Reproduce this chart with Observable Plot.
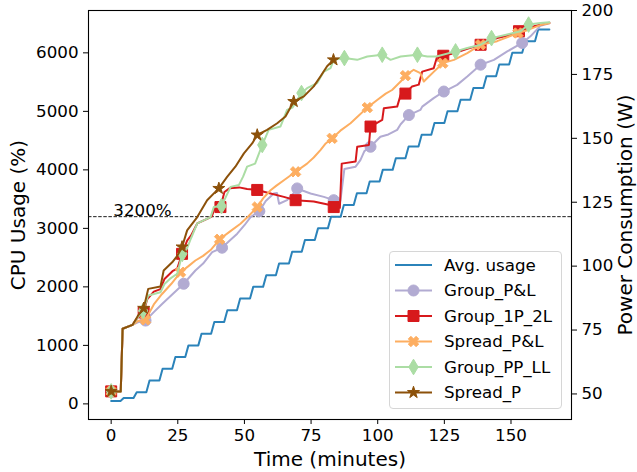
<!DOCTYPE html>
<html><head><meta charset="utf-8">
<script src="https://cdn.jsdelivr.net/npm/d3@7"></script>
<script src="https://cdn.jsdelivr.net/npm/@observablehq/plot@0.6"></script>
<style>
body{margin:0;background:#fff;font-family:"DejaVu Sans",sans-serif;}
#wrap{position:relative;width:637px;height:472px;}
#legend{position:absolute;left:389px;top:251px;width:173px;height:158px;box-sizing:border-box;border:1px solid #d6d6d6;border-radius:4px;background:rgba(255,255,255,0.8);}
</style></head><body><div id="wrap"></div>
<script>
// ---- tick labels / constants ----
const xTicks = [0, 25, 50, 75, 100, 125, 150];
const cpuTicks = [0, 1000, 2000, 3000, 4000, 5000, 6000];
const powerTicks = [50, 75, 100, 125, 150, 175, 200];
const threshold = 3200;

// ---- Avg. usage (CPU %, left axis): [time, value] ----
const avgUsage = [[0,50],[3.5,50],[4.7,100],[8.4,100],[9.6,200],[13.2,200],[14.4,400],[18.1,400],[19.3,600],
[22.9,600],[24.1,800],[27.8,800],[29.0,1000],[32.7,1000],[33.9,1200],[37.5,1200],[38.7,1400],[42.4,1400],[43.6,1600],
[47.2,1600],[48.4,1800],[52.1,1800],[53.3,2000],[57.0,2000],[58.2,2200],[61.8,2200],[63.0,2400],[66.7,2400],[67.9,2600],
[71.5,2600],[72.7,2800],[76.4,2800],[77.6,3000],[81.3,3000],[82.5,3200],[86.1,3200],[87.3,3400],[91.0,3400],[92.2,3600],
[95.8,3600],[97.0,3800],[100.7,3800],[101.9,4000],[105.6,4000],[106.8,4200],[110.4,4200],[111.6,4400],[115.3,4400],[116.5,4600],
[120.1,4600],[121.3,4800],[125.0,4800],[126.2,5000],[129.9,5000],[131.1,5200],[134.7,5200],[135.9,5400],[139.6,5400],[140.8,5600],
[144.4,5600],[145.6,5800],[149.3,5800],[150.5,6000],[154.2,6000],[155.4,6200],[159.0,6200],[160.2,6400],[164.4,6400]];

// ---- Power series (W, right axis): [time, watts] ----
const groupPL = [[0,51],[3.6,51],[4.3,75.5],[8,77],[10,78],[12.9,78.7],[16,82],[19.1,85.2],[22,88],[24.5,90.5],[27.2,93.1],
[31.6,98.3],[34.5,101],[37.9,105.5],[41.6,107.2],[44.5,110],[47.3,112.7],[50,116],[52.3,119.2],[55.6,121.5],[58,125.5],
[61,128.4],[62.2,128.6],[63,124.4],[66,125.8],[68,128],[69.8,130.4],[72,129.5],[74.8,128.4],[79.8,127.1],[83.5,125.8],
[86,125.5],[87.5,138],[91.7,138.9],[93.5,141.5],[95,145],[97.3,146.7],[101,150.6],[104,151.5],[107.3,153.3],[108.6,155.5],
[111.7,159.1],[116,161.1],[116.7,162.4],[121,165.7],[124.8,168.3],[129.8,170.9],[133.6,174.2],[138.6,178.8],[143.6,180.7],
[148.6,184],[154.2,187.3],[157.3,189.9],[161,194],[164.4,195]];
const groupPLMarks = [0,12.9,27.2,41.6,55.6,69.8,83.5,97.3,111.7,124.8,138.6,154.2];

const group1P2L = [[0,51],[3.6,51],[4.3,75.5],[8,77],[10,80],[12.2,81.9],[13.5,87],[16,90],[18.5,91],[20,95],[23,98],[24.8,99],
[26.6,104.8],[28.5,110],[30,112],[32.3,116.7],[36,118.5],[37.8,119.5],[38.8,122.5],[41,123.1],[42.5,129],[44.5,130.5],[48,130.8],
[51,130.2],[54.8,129.8],[59.8,128.4],[64.8,127.1],[69.2,125.8],[76,125.3],[81.7,124],[83.5,123.1],[85.8,122.8],[86.5,140.1],
[91.7,140.9],[92.3,146.7],[96.7,147.4],[97.3,154.6],[101.7,157.2],[102.3,161.8],[107.3,162.4],[108.6,167],[110.4,167.5],
[112.9,170.3],[115.4,171],[116.7,176.1],[121,177.4],[122.3,182],[124.6,182.3],[128.6,183.3],[133.6,185],[138.6,186.6],
[144.8,189.2],[149,190.2],[153,191.9],[158.6,193.8],[164.4,195.2]];
const group1P2LMarks = [0,12.2,26.6,41,54.8,69.2,83.5,97.3,110.4,124.6,138.6,153];

const spreadPL = [[0,51],[3.6,51],[4.3,75.5],[8,77],[10,78.5],[12.9,79],[16,85],[19.1,89.1],[22.5,93],[26,97.6],[29,100],
[31.6,102.2],[34.5,104],[37.3,106.3],[40.7,110.5],[44.5,113.5],[48.5,116.6],[51.5,119.5],[54.8,123.1],[57,126.5],[59.8,129.7],
[62,131.5],[64.8,133.6],[69.2,136.9],[73.5,140.1],[76,142.5],[78.5,145.4],[80.5,148],[82.9,150],[86,153],[89.8,155.9],
[92.5,158.5],[96.1,162],[99.8,165],[103,167.5],[105.4,168.9],[108.6,172.2],[110.4,174.5],[113.5,176.8],[116,175.5],
[117.3,172.2],[119,174],[121,176],[124.4,179.4],[128.6,180.7],[133.6,183.3],[138.6,186.6],[144.8,188],[152.6,191.2],
[156.1,192.3],[161,194.3],[164.4,195]];
const spreadPLMarks = [0,12.9,26,40.7,54.8,69.2,82.9,96.1,110.4,124.4,138.6,152.6];

const groupPPLL = [[0,51],[3.6,51],[4.3,75.5],[8,77],[10,80],[12,82.5],[13.9,88.5],[18.5,89.8],[20,93],[22,95],[24.8,97],
[26.7,104.8],[28.5,107],[30,111],[32.3,116.7],[37.3,119.2],[38.5,123.1],[41.4,123.5],[44.8,131],[47.9,131.7],[49.5,135],
[51,138.9],[54,140.1],[56.7,147.4],[59.1,153.3],[63.5,154.6],[66,161.1],[68,162],[71.4,167.7],[73.5,169.6],[77.3,171.6],
[79.8,176.1],[82.3,177.5],[83.5,180.7],[87.5,181.4],[92.3,180.7],[96.1,182],[101.7,182.7],[104.8,180.7],[108.6,182],
[114.9,182.7],[118.6,182],[122,182],[129.2,184],[133.6,185.3],[138.6,186.6],[142.7,189.2],[148.6,190.6],[153.6,191.9],
[156.6,194.5],[161,195.1],[164.4,195.4]];
const groupPPLLMarks = [0,12,26.7,41.4,56.7,71.4,87.5,101.7,114.9,129.2,142.7,156.6];

const spreadP = [[0,51],[3.6,51],[4.3,75.5],[8,77],[10,80.5],[12.2,83.5],[13.9,91.1],[18.5,92],[19.7,98.3],[22.9,101.5],
[24.8,104],[26.6,107.5],[28.5,114],[32.3,119.2],[36,125.8],[40.4,130.4],[43.5,134.9],[46.6,138.9],[49.8,144.1],[52.9,148],
[54.8,151.3],[58.5,153.3],[62.3,155.9],[65.4,158.5],[68.5,164.4],[72.3,166.4],[76,170.3],[78.5,174.2],[81,178.2],[83.4,180.7]];
const spreadPMarks = [0,12.2,26.6,40.4,54.8,68.5,83.4];

// ---- marker shapes ----
const symCircle = {draw(c){ c.moveTo(5.5,0); c.arc(0,0,5.5,0,2*Math.PI); c.closePath(); }};
const symSquare = {draw(c){ c.rect(-5.5,-5.5,11,11); }};
const symDiamond = {draw(c){ c.moveTo(0,-7.8); c.lineTo(4.7,0); c.lineTo(0,7.8); c.lineTo(-4.7,0); c.closePath(); }};
const symStar = {draw(c){ for (let k=0;k<10;k++){ const r = k%2 ? 2.4 : 6.3; const a = -Math.PI/2 + k*Math.PI/5;
  const x = r*Math.cos(a), y = r*Math.sin(a); if (k) c.lineTo(x,y); else c.moveTo(x,y);} c.closePath(); }};
const symXFill = {draw(c){ const pts=[[-1,-3],[1,-3],[1,-1],[3,-1],[3,1],[1,1],[1,3],[-1,3],[-1,1],[-3,1],[-3,-1],[-1,-1]];
  const s = 11/6, cs = Math.SQRT1_2;
  pts.forEach(([x,y],i)=>{ const X=(x-y)*cs*s, Y=(x+y)*cs*s; if (i) c.lineTo(X,Y); else c.moveTo(X,Y); }); c.closePath(); }};

const avgColor = "#2b83ba";
const series = [
  {name:"Group_P&L",   color:"#b2abd2", data:groupPL,   marks:groupPLMarks,   symbol:symCircle},
  {name:"Group_1P_2L", color:"#d7191c", data:group1P2L, marks:group1P2LMarks, symbol:symSquare},
  {name:"Spread_P&L",  color:"#fdae61", data:spreadPL,  marks:spreadPLMarks,  symbol:symXFill},
  {name:"Group_PP_LL", color:"#abdda4", data:groupPPLL, marks:groupPPLLMarks, symbol:symDiamond},
  {name:"Spread_P",    color:"#8c510a", data:spreadP,   marks:spreadPMarks,   symbol:symStar}
];

// right axis (W) mapped onto left-axis (CPU %) coordinates
const yDomain = [-267, 6724];
const wDomain = [40, 200];
const toC = d3.scaleLinear(wDomain, yDomain);

const marks = [
  Plot.ruleY([threshold], {stroke:"black", strokeWidth:0.9, strokeDasharray:"3.5,1.6"}),
  Plot.text([threshold], {x: () => 0.8, y: d => d, text: d => d + "%", textAnchor:"start", lineAnchor:"bottom", dy:-1, fontSize:16.7}),
  Plot.line(avgUsage, {x: d => d[0], y: d => d[1], stroke: avgColor, strokeWidth: 2})
];
for (const s of series) {
  marks.push(Plot.line(s.data, {x: d => d[0], y: d => toC(d[1]), stroke: s.color, strokeWidth: 2}));
  marks.push(Plot.dot(s.data.filter(d => s.marks.includes(d[0])), {x: d => d[0], y: d => toC(d[1]),
    symbol: s.symbol, r: 6, fill: s.color, stroke: s.color, strokeWidth: 1}));
}
marks.push(
  Plot.frame({stroke:"black", strokeWidth:1.1}),
  Plot.axisX(xTicks, {tickSize:5, tickPadding:5, tickFormat: d => String(d), label:null}),
  Plot.axisY(cpuTicks, {anchor:"left", tickSize:5, tickPadding:5, tickFormat: d => String(d), label:null}),
  Plot.axisY(powerTicks.map(toC), {anchor:"right", tickSize:5, tickPadding:5, tickFormat: c => String(Math.round(toC.invert(c))), label:null}),
  Plot.text(["Time (minutes)"], {text: d => d, frameAnchor:"bottom", dy:40, fontSize:20, lineAnchor:"middle", textAnchor:"middle"}),
  Plot.text(["CPU Usage (%)"], {text: d => d, frameAnchor:"left", dx:-70, rotate:-90, fontSize:20, textAnchor:"middle", lineAnchor:"middle"}),
  Plot.text(["Power Consumption (W)"], {text: d => d, frameAnchor:"right", dx:54, rotate:-90, fontSize:20, textAnchor:"middle", lineAnchor:"middle"})
);

const chart = Plot.plot({
  width: 637, height: 472,
  marginLeft: 88, marginRight: 66, marginTop: 10, marginBottom: 53,
  x: {domain: [-8.5, 172.7]},
  y: {domain: yDomain},
  style: {fontFamily: '"DejaVu Sans", sans-serif', fontSize: "16.7px", color: "black", background: "white", overflow: "visible"},
  marks
});
const wrap = document.getElementById("wrap");
wrap.appendChild(chart);

// ---- legend (inside plot, lower right) ----
const legendItems = [{name:"Avg. usage", color: avgColor, symbol: null}, ...series];
let svg = `<svg width="171" height="156" xmlns="http://www.w3.org/2000/svg" style="font-family:'DejaVu Sans',sans-serif;font-size:16.7px">`;
legendItems.forEach((s, i) => {
  const y = 13 + i * 25.5;
  svg += `<line x1="5" x2="42" y1="${y}" y2="${y}" stroke="${s.color}" stroke-width="2"/>`;
  if (s.symbol) {
    const p = d3.path(); s.symbol.draw(p, 0);
    svg += `<path d="${p.toString()}" transform="translate(23.5,${y})" fill="${s.color}" stroke="${s.color}" stroke-width="1"/>`;
  }
  const t = s.name.replace(/&/g, "&amp;");
  svg += `<text x="54" y="${y}" dy="0.35em" fill="black">${t}</text>`;
});
svg += `</svg>`;
const leg = document.createElement("div");
leg.id = "legend";
leg.innerHTML = svg;
wrap.appendChild(leg);
</script></body></html>
